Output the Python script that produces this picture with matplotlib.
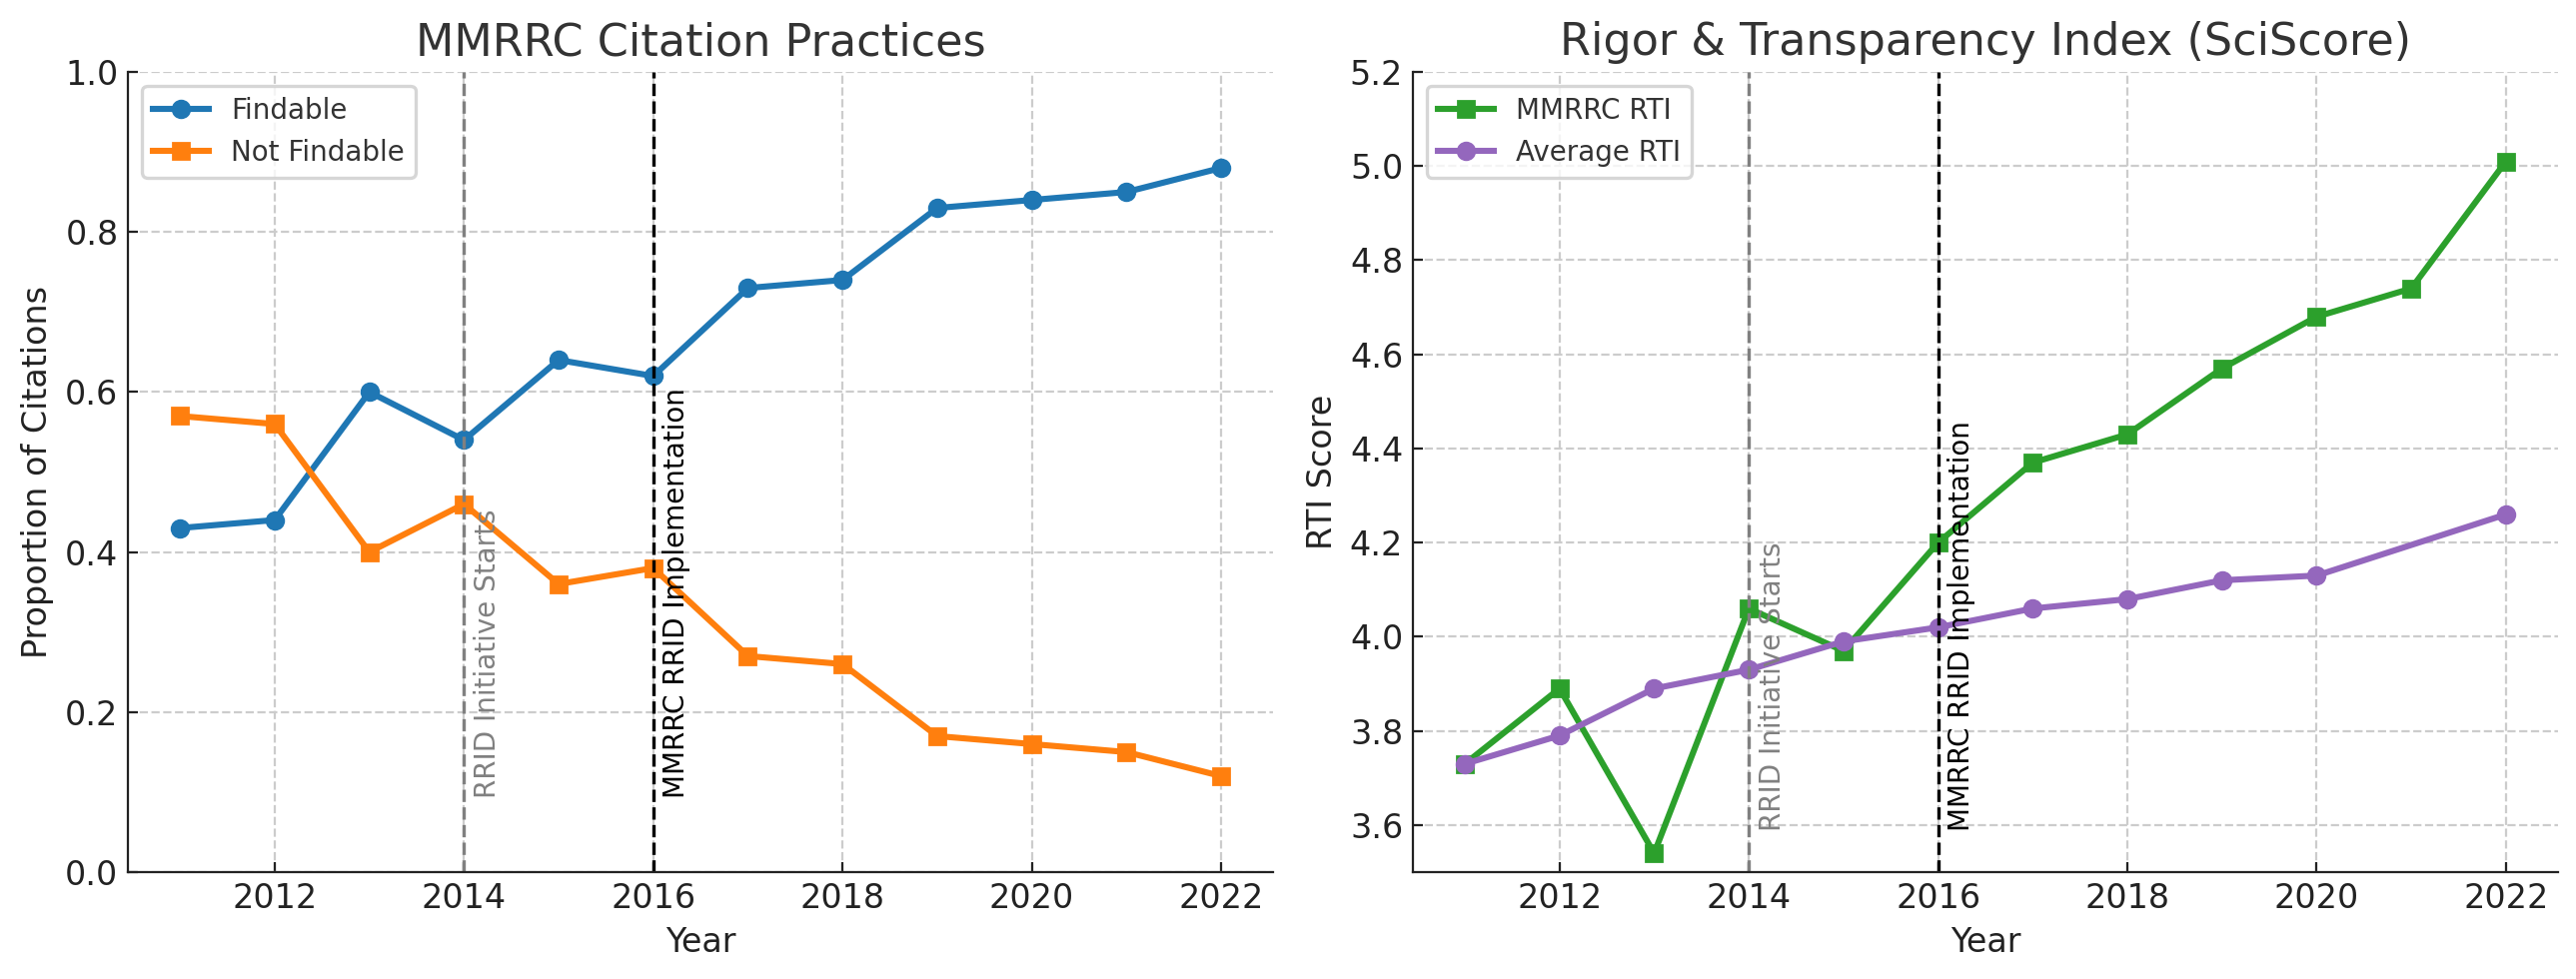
import matplotlib
matplotlib.use("Agg")
import matplotlib.pyplot as plt

# data
years = [2011, 2012, 2013, 2014, 2015, 2016, 2017, 2018, 2019, 2020, 2021, 2022]
findable = [0.43, 0.44, 0.60, 0.54, 0.64, 0.62, 0.73, 0.74, 0.83, 0.84, 0.85, 0.88]
not_findable = [0.57, 0.56, 0.40, 0.46, 0.36, 0.38, 0.27, 0.26, 0.17, 0.16, 0.15, 0.12]

mmrrc_rti = [3.73, 3.89, 3.54, 4.06, 3.97, 4.20, 4.37, 4.43, 4.57, 4.68, 4.74, 5.01]
avg_years = [2011, 2012, 2013, 2014, 2015, 2016, 2017, 2018, 2019, 2020, 2022]
avg_rti = [3.73, 3.79, 3.89, 3.93, 3.99, 4.02, 4.06, 4.08, 4.12, 4.13, 4.26]

rrid_start = 2014
mmrrc_impl = 2016

plt.rcParams['font.family'] = ['DejaVu Sans']
plt.rcParams['xtick.direction'] = 'in'
plt.rcParams['ytick.direction'] = 'in'
plt.rcParams['xtick.labelsize'] = 12
plt.rcParams['ytick.labelsize'] = 12
plt.rcParams['xtick.color'] = '#222222'
plt.rcParams['ytick.color'] = '#222222'
plt.rcParams['axes.edgecolor'] = '#222222'

fig, (ax1, ax2) = plt.subplots(1, 2, figsize=(12.89, 4.9), dpi=200)
fig.subplots_adjust(left=0.0497, right=0.993, bottom=0.1092, top=0.9265, wspace=0.122)


def style(ax):
    ax.spines['top'].set_visible(False)
    ax.spines['right'].set_visible(False)
    ax.grid(True, linestyle='--', color='#cccccc', linewidth=0.8)
    ax.set_axisbelow(True)


# Left: citation practices
ax1.plot(years, findable, marker='o', color='#1f77b4', linewidth=2.2, markersize=6, label='Findable')
ax1.plot(years, not_findable, marker='s', color='#ff7f0e', linewidth=2.2, markersize=6, label='Not Findable')
ax1.axvline(rrid_start, color='gray', linestyle='--', linewidth=1.2)
ax1.axvline(mmrrc_impl, color='black', linestyle='--', linewidth=1.2)
ax1.text(rrid_start + 0.1, 0.1, 'RRID Initiative Starts', rotation=90, color='gray', fontsize=10)
ax1.text(mmrrc_impl + 0.1, 0.1, 'MMRRC RRID Implementation', rotation=90, color='black', fontsize=10)
ax1.set_ylim(0, 1.0)
ax1.set_title('MMRRC Citation Practices', fontsize=16, color='#333333')
ax1.set_xlabel('Year', fontsize=12, color='#222222')
ax1.set_ylabel('Proportion of Citations', fontsize=12, color='#222222')
style(ax1)
leg1 = ax1.legend(loc='upper left', fontsize=10, edgecolor='#cccccc', labelcolor='#333333')
leg1.get_frame().set_linewidth(1.2)

# Right: RTI
ax2.plot(years, mmrrc_rti, marker='s', color='#2ca02c', linewidth=2.2, markersize=6, label='MMRRC RTI')
ax2.plot(avg_years, avg_rti, marker='o', color='#9467bd', linewidth=2.2, markersize=6, label='Average RTI')
ax2.axvline(rrid_start, color='gray', linestyle='--', linewidth=1.2)
ax2.axvline(mmrrc_impl, color='black', linestyle='--', linewidth=1.2)
ax2.text(rrid_start + 0.1, 3.6, 'RRID Initiative Starts', rotation=90, color='gray', fontsize=10)
ax2.text(mmrrc_impl + 0.1, 3.6, 'MMRRC RRID Implementation', rotation=90, color='black', fontsize=10)
ax2.set_ylim(3.5, 5.2)
ax2.set_title('Rigor & Transparency Index (SciScore)', fontsize=16, color='#333333')
ax2.set_xlabel('Year', fontsize=12, color='#222222')
ax2.set_ylabel('RTI Score', fontsize=12, color='#222222')
style(ax2)
leg2 = ax2.legend(loc='upper left', fontsize=10, edgecolor='#cccccc', labelcolor='#333333')
leg2.get_frame().set_linewidth(1.2)

fig.savefig('out.png', dpi=200)
